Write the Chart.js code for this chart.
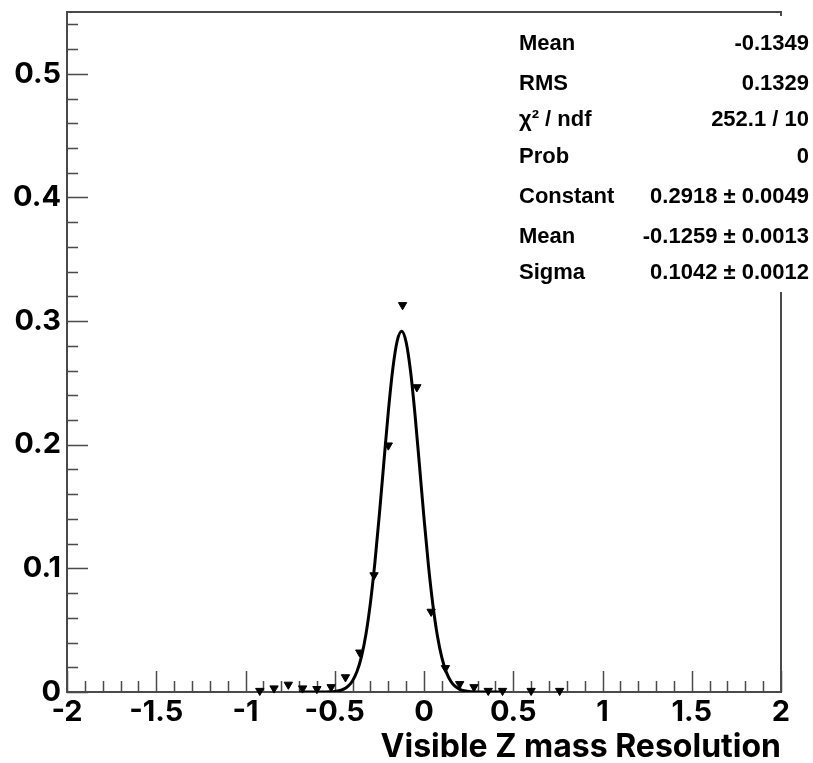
<!DOCTYPE html>
<html>
<head>
<meta charset="utf-8">
<script src="https://cdn.jsdelivr.net/npm/chart.js@4"></script>
<style>
  html, body { margin: 0; padding: 0; background: #fff; }
  #wrap { width: 813px; height: 763px; }
</style>
</head>
<body>
<div id="wrap"><canvas id="myChart" width="813" height="763"></canvas></div>
<script>
// histogram bin centres and contents
const binCenters = [-0.92, -0.84, -0.76, -0.68, -0.60, -0.52, -0.44, -0.36, -0.28, -0.20,
                    -0.12, -0.04, 0.04, 0.12, 0.20, 0.28, 0.36, 0.44, 0.60, 0.76];
const binValues = [0.001, 0.003, 0.006, 0.003, 0.0025, 0.004, 0.012, 0.032, 0.0945, 0.1995,
                   0.313, 0.2466, 0.065, 0.0194, 0.0065, 0.004, 0.001, 0.001, 0.001, 0.001];

// fitted curve
const fitX = [-0.70, -0.65, -0.60, -0.55, -0.525, -0.50, -0.475, -0.45, -0.425, -0.40, -0.375,
              -0.35, -0.325, -0.30, -0.275, -0.25, -0.225, -0.20, -0.175, -0.15, -0.125,
              -0.10, -0.075, -0.05, -0.025, 0.0, 0.025, 0.05, 0.075, 0.10, 0.125, 0.15,
              0.175, 0.20, 0.225, 0.25, 0.275, 0.30, 0.35, 0.40, 0.45];
const fitY = [0.0, 0.0, 0.00001, 0.00007, 0.00019, 0.00046, 0.00107, 0.00231, 0.00474, 0.00917, 0.01676,
              0.02889, 0.0470, 0.0723, 0.1048, 0.1436, 0.1856, 0.2266, 0.2611, 0.2841, 0.2918,
              0.2829, 0.2590, 0.2238, 0.1826, 0.1406, 0.1022, 0.0702, 0.0455, 0.0278, 0.0161, 0.00876,
              0.00451, 0.00219, 0.00101, 0.00044, 0.00018, 0.00007, 0.0, 0.0, 0.0];

// axis ticks
const xTicks = [-2, -1.5, -1, -0.5, 0, 0.5, 1, 1.5, 2];
const xTickLabels = ['-2', '-1.5', '-1', '-0.5', '0', '0.5', '1', '1.5', '2'];
const yTicks = [0, 0.1, 0.2, 0.3, 0.4, 0.5];
const yTickLabels = ['0', '0.1', '0.2', '0.3', '0.4', '0.5'];

// stats box
const statNames = ['Mean', 'RMS', '\u03c7\u00b2 / ndf', 'Prob', 'Constant', 'Mean', 'Sigma'];
const statValues = ['-0.1349', '0.1329', '252.1 / 10', '0', '0.2918 \u00b1 0.0049',
                    '-0.1259 \u00b1 0.0013', '0.1042 \u00b1 0.0012'];

const FONT = 'Inter, "Liberation Sans", sans-serif';
const STATFONT = '"Liberation Sans", Arial, sans-serif';

const frameAndTicks = {
    id: 'frameAndTicks',
    beforeDatasetsDraw(chart) {
        const ctx = chart.ctx;
        const a = chart.chartArea;
        const xs = chart.scales.x, ys = chart.scales.y;
        ctx.save();
        ctx.strokeStyle = '#4a4a4a';
        ctx.lineWidth = 1.5;
        ctx.beginPath();
        // minor + major ticks on x
        for (let i = -20; i <= 20; i++) {
            const px = Math.round(xs.getPixelForValue(i / 10)) + 0.5;
            const len = (i % 5 === 0) ? 21 : 11;
            ctx.moveTo(px, a.bottom);
            ctx.lineTo(px, a.bottom - len);
        }
        // minor + major ticks on y
        for (let j = 0; j <= 27; j++) {
            const py = Math.round(ys.getPixelForValue(j * 0.02)) + 0.5;
            const len = (j % 5 === 0) ? 21 : 11;
            ctx.moveTo(a.left, py);
            ctx.lineTo(a.left + len, py);
        }
        ctx.stroke();
        ctx.lineWidth = 2;
        ctx.strokeRect(a.left, a.top, a.right - a.left, a.bottom - a.top);
        ctx.restore();
    },
    afterDatasetsDraw(chart) {
        const ctx = chart.ctx;
        const a = chart.chartArea;
        ctx.save();
        ctx.fillStyle = '#fff';
        ctx.fillRect(508, a.top + 4, 813 - 508, 292 - a.top - 4);
        ctx.fillStyle = '#000';
        ctx.font = 'bold 22px ' + STATFONT;
        ctx.textBaseline = 'middle';
        const rows = [44, 84, 120, 157, 197, 237, 273];
        statNames.forEach((n, i) => {
            ctx.textAlign = 'left';
            ctx.fillText(n, 519, rows[i]);
            ctx.textAlign = 'right';
            ctx.fillText(statValues[i], 809, rows[i]);
        });
        ctx.restore();
    }
};

const data = {
    datasets: [{
        label: 'fit',
        data: fitX.map((x, i) => ({ x: x, y: fitY[i] })),
        showLine: true,
        borderColor: '#000',
        borderWidth: 3,
        pointRadius: 0,
        tension: 0.4,
        cubicInterpolationMode: 'monotone',
        fill: false
    }, {
        label: 'hist',
        data: binCenters.map((x, i) => ({ x: x, y: binValues[i] })),
        showLine: false,
        pointStyle: 'triangle',
        rotation: 180,
        pointRadius: 4.8,
        pointBackgroundColor: '#000',
        pointBorderColor: '#000',
        pointBorderWidth: 1,
        clip: false
    }]
};

const config = {
    type: 'scatter',
    data: data,
    options: {
        responsive: false,
        animation: false,
        events: [],
        layout: { padding: { top: 12, right: 32, left: 0, bottom: 0 } },
        plugins: { legend: { display: false }, tooltip: { enabled: false } },
        scales: {
            x: {
                type: 'linear', min: -2, max: 2,
                grid: { display: false, drawTicks: false },
                border: { display: false },
                afterFit: (s) => { s.height = 71; s.paddingLeft = 0; s.paddingRight = 0; },
                afterBuildTicks: (s) => { s.ticks = xTicks.map(v => ({ value: v })); },
                ticks: {
                    color: '#000', padding: 3, maxRotation: 0, autoSkip: false,
                    font: { family: FONT, size: 29, weight: 'bold' },
                    callback: (v, i) => xTickLabels[i]
                },
                title: {
                    display: true, text: 'Visible Z mass Resolution', align: 'end', color: '#000',
                    padding: { top: 0, bottom: 0 },
                    font: { family: FONT, size: 32, weight: 'bold', lineHeight: 0.95 }
                }
            },
            y: {
                type: 'linear', min: 0, max: 0.55,
                grid: { display: false, drawTicks: false },
                border: { display: false },
                afterFit: (s) => { s.width = 67; s.paddingTop = 0; s.paddingBottom = 0; },
                afterBuildTicks: (s) => { s.ticks = yTicks.map(v => ({ value: v })); },
                ticks: {
                    color: '#000', padding: 6, autoSkip: false,
                    font: { family: FONT, size: 29, weight: 'bold' },
                    callback: (v, i) => yTickLabels[i]
                }
            }
        }
    },
    plugins: [frameAndTicks]
};

const myChart = new Chart(document.getElementById('myChart'), config);
</script>
</body>
</html>
